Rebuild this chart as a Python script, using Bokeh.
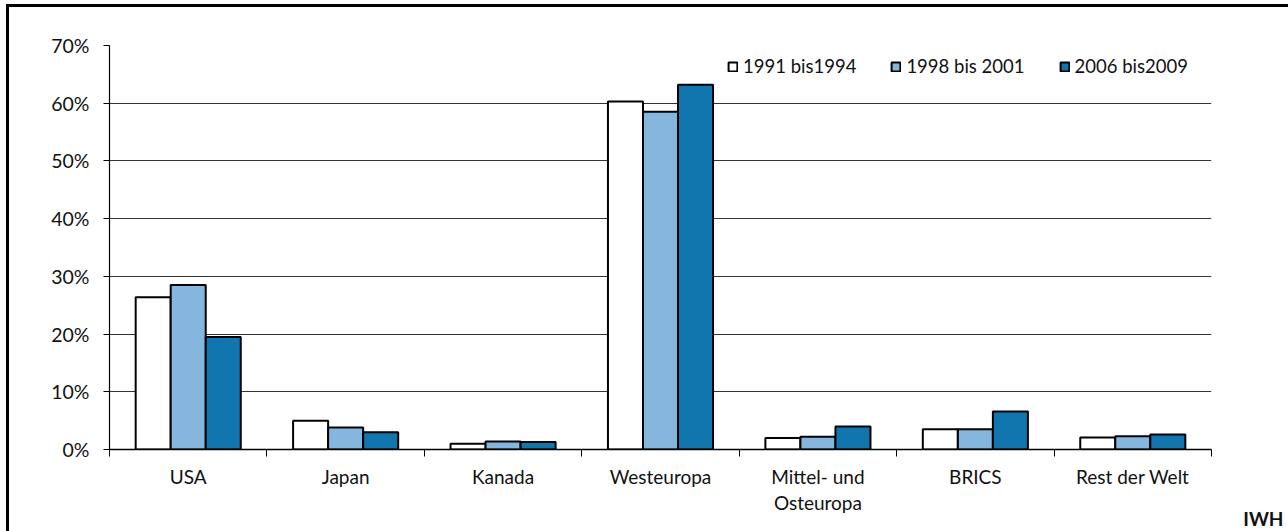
import numpy as np
from bokeh.plotting import figure
from bokeh.models import (ColumnDataSource, FixedTicker, NumeralTickFormatter, Range1d,
                          Legend, LegendItem, Title, InlineStyleSheet)
from bokeh.embed import file_html
from bokeh.resources import INLINE

categories = ["USA", "Japan", "Kanada", "Westeuropa", "Mittel- und\nOsteuropa", "BRICS", "Rest der Welt"]
series_names = ["1991 bis1994", "1998 bis 2001", "2006 bis2009"]
s1991 = [0.264, 0.050, 0.010, 0.603, 0.020, 0.035, 0.021]
s1998 = [0.285, 0.038, 0.014, 0.585, 0.022, 0.035, 0.023]
s2006 = [0.195, 0.030, 0.013, 0.632, 0.040, 0.066, 0.026]
y_ticks = [0.0, 0.1, 0.2, 0.3, 0.4, 0.5, 0.6, 0.7]

colors = ["#FFFFFF", "#85B6DE", "#1176AD"]
FONT = "Lato"

W, H = 1288, 531
FL, FR, FT, FB = 109, 77, 45, 82  # frame borders
p = figure(width=W, height=H, output_backend="svg", toolbar_location=None,
           x_range=Range1d(0, len(categories)), y_range=Range1d(0, 0.70),
           min_border_left=FL, min_border_right=FR, min_border_top=FT, min_border_bottom=FB)
p.outline_line_color = None
p.background_fill_color = "white"
p.border_fill_color = "white"

bar_w = 0.2225
centers = np.arange(len(categories)) + 0.5
offsets = [-bar_w, 0.0, bar_w]
renderers = []
for vals, off, col in zip([s1991, s1998, s2006], offsets, colors):
    src = ColumnDataSource(dict(x=centers + off, top=vals))
    r = p.vbar(x="x", top="top", width=bar_w, bottom=0, source=src,
               fill_color=col, line_color="black", line_width=2)
    renderers.append(r)

# axes
p.xaxis.ticker = FixedTicker(ticks=list(centers), minor_ticks=list(range(len(categories) + 1)))
p.xaxis.major_label_overrides = {float(c): lab for c, lab in zip(centers, categories)}
p.xaxis.major_tick_out = 0
p.xaxis.major_tick_in = 0
p.xaxis.minor_tick_out = 7
p.xaxis.minor_tick_in = 0
p.xaxis.minor_tick_line_color = "black"
p.xaxis.axis_line_color = "black"
p.xaxis.axis_line_width = 1.5
p.xaxis.major_label_standoff = 8
p.xaxis.major_label_text_font = FONT
p.xaxis.major_label_text_font_size = "19px"
p.xaxis.major_label_text_line_height = 1.15
p.xaxis.major_label_text_color = "#111111"

p.yaxis.ticker = FixedTicker(ticks=y_ticks, minor_ticks=[])
p.yaxis.formatter = NumeralTickFormatter(format="0%")
p.yaxis.major_tick_out = 6
p.yaxis.major_tick_in = 0
p.yaxis.axis_line_color = "black"
p.yaxis.axis_line_width = 1.2
p.yaxis.major_label_standoff = 14
p.yaxis.major_label_text_font = FONT
p.yaxis.major_label_text_font_size = "19.5px"
p.yaxis.major_label_text_color = "#111111"

p.xgrid.grid_line_color = None
p.ygrid.ticker = FixedTicker(ticks=y_ticks)
p.ygrid.grid_line_color = "#333333"
p.ygrid.grid_line_width = 1.2

legend = Legend(items=[LegendItem(label=n, renderers=[r]) for n, r in zip(series_names, renderers)],
                orientation="horizontal", location=(618, 372))
legend.glyph_width = 11
legend.glyph_height = 11
legend.label_standoff = 5
legend.spacing = 34
legend.padding = 0
legend.margin = 0
legend.border_line_alpha = 0
legend.background_fill_alpha = 0
legend.label_text_font = FONT
legend.label_text_font_size = "18.5px"
legend.label_text_color = "#111111"
p.add_layout(legend, "center")

# "IWH" source mark, bottom right, outside the plot frame
iwh = Title(text="IWH", align="right", offset=-72, standoff=-26,
            text_font=FONT, text_font_style="bold", text_font_size="19px", text_color="#111111")
p.add_layout(iwh, "below")

# outer chart-area border (only left and top edges fall inside the picture)
p.stylesheets = [InlineStyleSheet(css="""
:host { position: relative; }
:host::after {
  content: "";
  position: absolute;
  left: 6px; top: 4px; right: -20px; bottom: -20px;
  border-left: 3px solid black;
  border-top: 3px solid black;
  pointer-events: none;
}
""")]

open("out.html", "w").write(file_html(p, INLINE))
